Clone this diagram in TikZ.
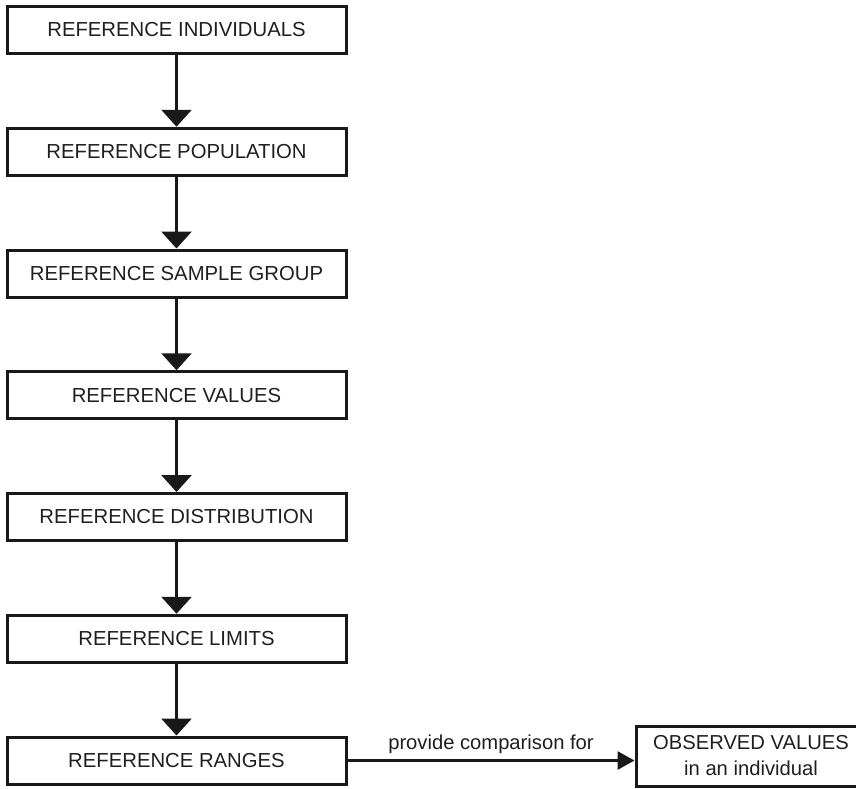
\documentclass[tikz,border=0pt]{standalone}
\usepackage{fontspec}
\setmainfont{Liberation Sans}
\usetikzlibrary{arrows.meta}
\begin{document}
\begin{tikzpicture}[x=1pt,y=-1pt,
  box/.style={draw=black!90, line width=3pt, minimum width=339pt, minimum height=47pt,
    inner sep=0pt, text=black!88, font=\fontsize{20.3}{22}\selectfont},
  obsbox/.style={draw=black!90, line width=3pt, minimum width=230pt, minimum height=60pt,
    inner sep=0pt, align=center, text=black!88, font=\fontsize{20.2}{26}\selectfont},
  arr/.style={draw=black!90, line width=3pt, -{Triangle[width=30pt,length=17pt]}},
  harr/.style={draw=black!90, line width=3pt, -{Triangle[width=18pt,length=17pt]}},
  lbl/.style={text=black!88, font=\fontsize{20.2}{22}\selectfont, inner sep=2pt}]
\useasboundingbox (0,0) rectangle (856,788);
\node[box] (r1) at (176.5,30) {REFERENCE INDIVIDUALS};
\node[box] (r2) at (176.5,151.75) {REFERENCE POPULATION};
\node[box] (r3) at (176.5,273.5) {REFERENCE SAMPLE GROUP};
\node[box] (r4) at (176.5,395.25) {REFERENCE VALUES};
\node[box] (r5) at (176.5,517) {REFERENCE DISTRIBUTION};
\node[box] (r6) at (176.5,638.75) {REFERENCE LIMITS};
\node[box] (r7) at (176.5,760.5) {REFERENCE RANGES};
\node[obsbox] (obs) at (751,756) {OBSERVED VALUES\\in an individual};
\draw[arr] (r1) -- (r2);
\draw[arr] (r2) -- (r3);
\draw[arr] (r3) -- (r4);
\draw[arr] (r4) -- (r5);
\draw[arr] (r5) -- (r6);
\draw[arr] (r6) -- (r7);
\draw[harr] (r7.east) -- (r7.east -| obs.west) node[lbl, midway, above=3pt] {provide comparison for};
\end{tikzpicture}
\end{document}
